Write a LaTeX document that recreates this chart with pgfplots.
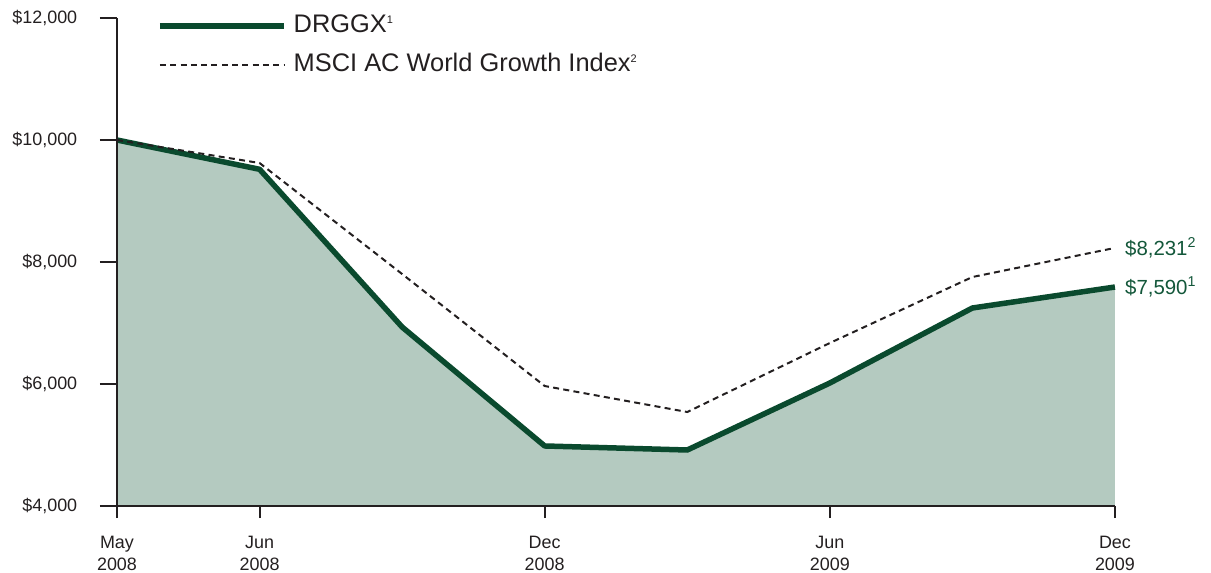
\documentclass[border=0pt]{standalone}
\usepackage{pgfplots}
\pgfplotsset{compat=1.18}
\usepackage{fontspec}
\setmainfont{Liberation Sans}
\definecolor{dgreen}{HTML}{0A4A2E}
\definecolor{tgreen}{HTML}{13573A}
\definecolor{fillg}{HTML}{B4CAC0}
\definecolor{axc}{HTML}{231F20}
\begin{document}
\begin{tikzpicture}
\path[use as bounding box] (-117bp,-67bp) rectangle (1094bp,506bp);
\begin{axis}[
  scale only axis, width=998bp, height=488bp,
  xmin=0, xmax=7, ymin=4000, ymax=12000,
  axis x line*=bottom, axis y line*=left,
  axis line style={axc, line width=2bp},
  axis on top,
  clip=false,
  scaled y ticks=false,
  xtick={0,1,3,5,7},
  xticklabels={May\\2008, Jun\\2008, Dec\\2008, Jun\\2009, Dec\\2009},
  ytick={4000,6000,8000,10000,12000},
  yticklabels={{\$4,000}, {\$6,000}, {\$8,000}, {\$10,000}, {\$12,000}},
  tick align=outside,
  tick style={axc, line width=2bp},
  xtick style={/pgfplots/major tick length=12bp},
  ytick style={/pgfplots/major tick length=17bp},
  xticklabel style={font=\fontsize{18}{22}\selectfont, align=center, yshift=-22bp, text=axc},
  yticklabel style={font=\fontsize{18}{22}\selectfont, xshift=-32bp, text=axc},
  legend cell align=left,
  legend style={at={(rel axis cs:0.0401,1.008)}, anchor=north west, draw=none, fill=none,
    inner sep=0pt, row sep=16bp, column sep=7bp, font=\fontsize{25.5}{30}\selectfont, text=axc,
    nodes={inner sep=0pt, text height=18bp, text depth=5bp}},
  legend image code/.code={\draw[#1] (0bp,0bp) -- (124bp,0bp);},
]
\addplot[fill=fillg, draw=none, forget plot] coordinates {
  (0,4000) (0,10000) (1,9520) (2,6934) (3,4984) (4,4918) (5,6016) (6,7246) (7,7590) (7,4000)
};
\addplot[dgreen, line width=5.5bp, line join=round] coordinates {
  (0,10000) (1,9520) (2,6934) (3,4984) (4,4918) (5,6016) (6,7246) (7,7590)
};
\addlegendentry{DRGGX\textsuperscript{\fontsize{11}{11}\selectfont 1}}
\addplot[axc, line width=2bp, dash pattern=on 6bp off 4.3bp] coordinates {
  (0,10000) (1,9623) (2,7803) (3,5967) (4,5541) (5,6672) (6,7754) (7,8231)
};
\addlegendentry{MSCI AC World Growth Index\textsuperscript{\fontsize{11}{11}\selectfont 2}}
\node[anchor=west, text=tgreen, font=\fontsize{20.5}{24}\selectfont, xshift=10bp, inner sep=0pt] at (axis cs:7,8231) {\$8,231\textsuperscript{2}};
\node[anchor=west, text=tgreen, font=\fontsize{20.5}{24}\selectfont, xshift=10bp, inner sep=0pt] at (axis cs:7,7590) {\$7,590\textsuperscript{1}};
\end{axis}
\end{tikzpicture}
\end{document}
